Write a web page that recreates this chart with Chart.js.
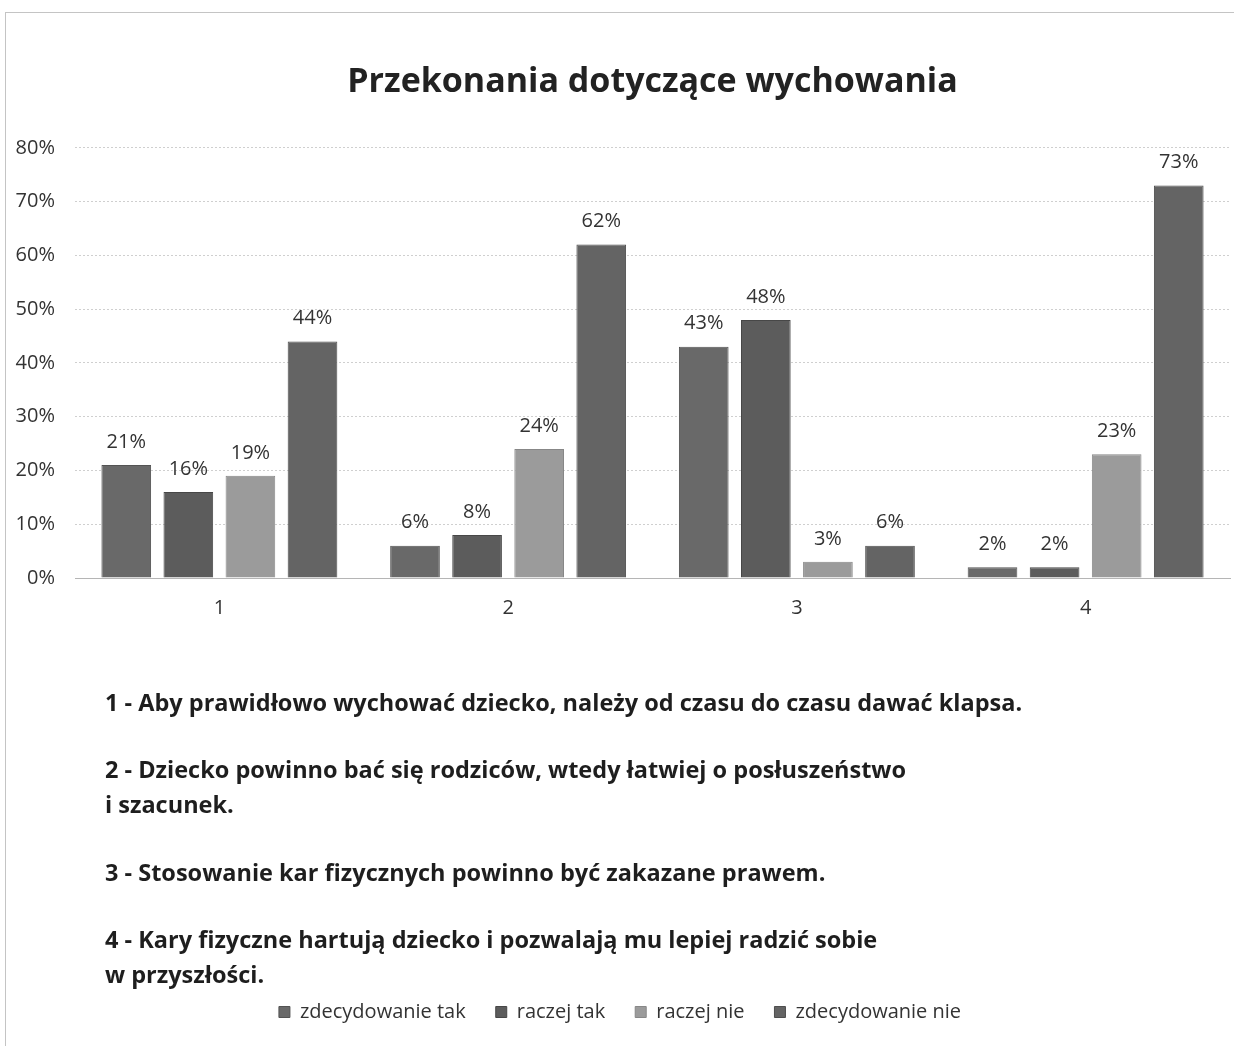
<!DOCTYPE html>
<html>
<head>
<meta charset="utf-8">
<script src="https://cdn.jsdelivr.net/npm/chart.js@4"></script>
<style>
    html, body { margin: 0; padding: 0; background: #fff; }
    #wrap { position: relative; width: 1234px; height: 1046px; overflow: hidden; }
    #frame {
        position: absolute; left: 5px; top: 12px; right: -2px; bottom: -2px;
        border-top: 1px solid #c4c4c4; border-left: 1px solid #c4c4c4;
    }
    canvas { position: absolute; left: 0; top: 0; }
    .note {
        position: absolute; left: 105px;
        font-family: 'Open Sans', sans-serif; font-weight: bold;
        font-size: 23.5px; line-height: 35px; color: #1e1e1e;
        white-space: nowrap;
    }
</style>
</head>
<body>
<div id="wrap">
    <div id="frame"></div>
    <canvas id="chart" width="1234" height="1046"></canvas>
    <div class="note" style="top:685px">1 - Aby prawidłowo wychować dziecko, należy od czasu do czasu dawać klapsa.</div>
    <div class="note" style="top:752px">2 - Dziecko powinno bać się rodziców, wtedy łatwiej o posłuszeństwo<br>i szacunek.</div>
    <div class="note" style="top:855px">3 - Stosowanie kar fizycznych powinno być zakazane prawem.</div>
    <div class="note" style="top:922px">4 - Kary fizyczne hartują dziecko i pozwalają mu lepiej radzić sobie<br>w przyszłości.</div>
</div>
<script>
// Chart data
const categories = ['1', '2', '3', '4'];
const seriesNames = ['zdecydowanie tak', 'raczej tak', 'raczej nie', 'zdecydowanie nie'];
const zdecydowanieTak = [21, 6, 43, 2];
const raczejTak = [16, 8, 48, 2];
const raczejNie = [19, 24, 3, 23];
const zdecydowanieNie = [44, 62, 6, 73];
const yTicks = [0, 10, 20, 30, 40, 50, 60, 70, 80];

const FONT = "'Open Sans', sans-serif";
const barColors = ['#696969', '#5c5c5c', '#9b9b9b', '#646464'];
const borderColors = ['#535353', '#474747', '#878787', '#4e4e4e'];

// Value labels above each bar
const valueLabels = {
    id: 'valueLabels',
    afterDatasetsDraw(chart) {
        const ctx = chart.ctx;
        ctx.save();
        ctx.font = '20px ' + FONT;
        ctx.fillStyle = '#333';
        ctx.textAlign = 'center';
        ctx.textBaseline = 'bottom';
        chart.data.datasets.forEach((ds, i) => {
            chart.getDatasetMeta(i).data.forEach((bar, j) => {
                ctx.fillText(ds.data[j] + '%', bar.x, bar.y - 13);
            });
        });
        ctx.restore();
    }
};

const allSeries = [zdecydowanieTak, raczejTak, raczejNie, zdecydowanieNie];

new Chart(document.getElementById('chart'), {
    type: 'bar',
    data: {
        labels: categories,
        datasets: allSeries.map((values, i) => ({
            label: seriesNames[i],
            data: values,
            backgroundColor: barColors[i],
            borderColor: borderColors[i],
            borderWidth: 1,
            categoryPercentage: 0.86,
            barPercentage: 0.8,
        }))
    },
    options: {
        responsive: false,
        animation: false,
        layout: { padding: { top: 0, left: 10, right: 4, bottom: 14 } },
        plugins: {
            title: {
                display: true,
                fullSize: false,
                text: 'Przekonania dotyczące wychowania',
                color: '#222',
                font: { family: FONT, size: 34, weight: 'bold' },
                padding: { top: 62, bottom: 45 }
            },
            legend: {
                position: 'bottom',
                labels: {
                    color: '#333',
                    font: { family: FONT, size: 20 },
                    boxWidth: 11,
                    boxHeight: 11,
                    padding: 30,
                }
            },
            tooltip: { enabled: false }
        },
        scales: {
            x: {
                grid: { display: false, drawTicks: false },
                border: { display: true, color: '#b5b5b5' },
                ticks: {
                    color: '#333',
                    font: { family: FONT, size: 20 },
                    padding: 18
                },
                afterFit: (scale) => { scale.height = 394; }
            },
            y: {
                min: 0,
                max: 80,
                afterBuildTicks: (scale) => {
                    scale.ticks = yTicks.map(v => ({ value: v }));
                },
                grid: {
                    color: '#cfcfcf',
                    drawTicks: false
                },
                border: { display: false, dash: [2, 2] },
                ticks: {
                    color: '#333',
                    font: { family: FONT, size: 20 },
                    padding: 20,
                    callback: (v) => v + '%'
                },
                afterFit: (scale) => { scale.width = 65; }
            }
        }
    },
    plugins: [valueLabels]
});
</script>
</body>
</html>
